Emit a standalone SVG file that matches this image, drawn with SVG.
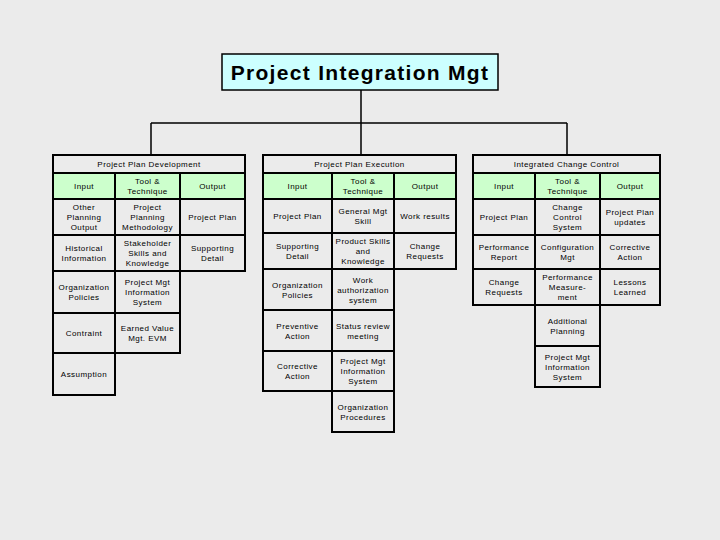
<svg xmlns="http://www.w3.org/2000/svg" width="720" height="540" viewBox="0 0 720 540">
<style>
.c{fill:#ebebeb;stroke:#000;stroke-width:2}
.g{fill:#ccffcc;stroke:#000;stroke-width:2}
.t{font-family:"Liberation Sans",Arial,sans-serif;font-size:8px;letter-spacing:0.45px;fill:#000;text-anchor:middle}
.ln{fill:none;stroke:#000;stroke-width:1.5}
</style>
<rect width="720" height="540" fill="#ebebeb"/>
<g id="connectors">
<path class="ln" d="M361,90 V155 M151,123 H567 M151,123 V155 M567,123 V155"/>
</g>
<g id="title">
<rect x="222" y="54" width="276" height="36" fill="#ccffff" stroke="#000" stroke-width="1.5"/>
<text x="360" y="80" font-family="Liberation Sans,Arial,sans-serif" font-size="21" font-weight="bold" letter-spacing="1.3" text-anchor="middle">Project Integration Mgt</text>
</g>
<g id="plan-development">
<rect class="c" x="53" y="155" width="192" height="18"/>
<rect class="g" x="53" y="173" width="62" height="26"/>
<rect class="g" x="115" y="173" width="65" height="26"/>
<rect class="g" x="180" y="173" width="65" height="26"/>
<rect class="c" x="53" y="199" width="62" height="36"/>
<rect class="c" x="115" y="199" width="65" height="36"/>
<rect class="c" x="180" y="199" width="65" height="36"/>
<rect class="c" x="53" y="235" width="62" height="36"/>
<rect class="c" x="115" y="235" width="65" height="36"/>
<rect class="c" x="180" y="235" width="65" height="36"/>
<rect class="c" x="53" y="271" width="62" height="42"/>
<rect class="c" x="115" y="271" width="65" height="42"/>
<rect class="c" x="53" y="313" width="62" height="40"/>
<rect class="c" x="115" y="313" width="65" height="40"/>
<rect class="c" x="53" y="353" width="62" height="42"/>
<text class="t" x="149" y="167">Project Plan Development</text>
<text class="t" x="84" y="189">Input</text>
<text class="t" x="147.5" y="184">Tool &amp;<tspan x="147.5" dy="10">Technique</tspan></text>
<text class="t" x="212.5" y="189">Output</text>
<text class="t" x="84" y="210">Other<tspan x="84" dy="10">Planning</tspan><tspan x="84" dy="10">Output</tspan></text>
<text class="t" x="147.5" y="210">Project<tspan x="147.5" dy="10">Planning</tspan><tspan x="147.5" dy="10">Methodology</tspan></text>
<text class="t" x="212.5" y="220">Project Plan</text>
<text class="t" x="84" y="251">Historical<tspan x="84" dy="10">Information</tspan></text>
<text class="t" x="147.5" y="246">Stakeholder<tspan x="147.5" dy="10">Skills and</tspan><tspan x="147.5" dy="10">Knowledge</tspan></text>
<text class="t" x="212.5" y="251">Supporting<tspan x="212.5" dy="10">Detail</tspan></text>
<text class="t" x="84" y="290">Organization<tspan x="84" dy="10">Policies</tspan></text>
<text class="t" x="147.5" y="285">Project Mgt<tspan x="147.5" dy="10">Information</tspan><tspan x="147.5" dy="10">System</tspan></text>
<text class="t" x="84" y="336">Contraint</text>
<text class="t" x="147.5" y="331">Earned Value<tspan x="147.5" dy="10">Mgt. EVM</tspan></text>
<text class="t" x="84" y="377">Assumption</text>
</g>
<g id="plan-execution">
<rect class="c" x="263" y="155" width="193" height="18"/>
<rect class="g" x="263" y="173" width="69" height="26"/>
<rect class="g" x="332" y="173" width="62" height="26"/>
<rect class="g" x="394" y="173" width="62" height="26"/>
<rect class="c" x="263" y="199" width="69" height="34"/>
<rect class="c" x="332" y="199" width="62" height="34"/>
<rect class="c" x="394" y="199" width="62" height="34"/>
<rect class="c" x="263" y="233" width="69" height="36"/>
<rect class="c" x="332" y="233" width="62" height="36"/>
<rect class="c" x="394" y="233" width="62" height="36"/>
<rect class="c" x="263" y="269" width="69" height="41"/>
<rect class="c" x="332" y="269" width="62" height="41"/>
<rect class="c" x="263" y="310" width="69" height="41"/>
<rect class="c" x="332" y="310" width="62" height="41"/>
<rect class="c" x="263" y="351" width="69" height="40"/>
<rect class="c" x="332" y="351" width="62" height="40"/>
<rect class="c" x="332" y="391" width="62" height="41"/>
<text class="t" x="359.5" y="167">Project Plan Execution</text>
<text class="t" x="297.5" y="189">Input</text>
<text class="t" x="363" y="184">Tool &amp;<tspan x="363" dy="10">Technique</tspan></text>
<text class="t" x="425" y="189">Output</text>
<text class="t" x="297.5" y="219">Project Plan</text>
<text class="t" x="363" y="214">General Mgt<tspan x="363" dy="10">Skill</tspan></text>
<text class="t" x="425" y="219">Work results</text>
<text class="t" x="297.5" y="249">Supporting<tspan x="297.5" dy="10">Detail</tspan></text>
<text class="t" x="363" y="244">Product Skills<tspan x="363" dy="10">and</tspan><tspan x="363" dy="10">Knowledge</tspan></text>
<text class="t" x="425" y="249">Change<tspan x="425" dy="10">Requests</tspan></text>
<text class="t" x="297.5" y="287.5">Organization<tspan x="297.5" dy="10">Policies</tspan></text>
<text class="t" x="363" y="282.5">Work<tspan x="363" dy="10">authorization</tspan><tspan x="363" dy="10">system</tspan></text>
<text class="t" x="297.5" y="328.5">Preventive<tspan x="297.5" dy="10">Action</tspan></text>
<text class="t" x="363" y="328.5">Status review<tspan x="363" dy="10">meeting</tspan></text>
<text class="t" x="297.5" y="369">Corrective<tspan x="297.5" dy="10">Action</tspan></text>
<text class="t" x="363" y="364">Project Mgt<tspan x="363" dy="10">Information</tspan><tspan x="363" dy="10">System</tspan></text>
<text class="t" x="363" y="409.5">Organization<tspan x="363" dy="10">Procedures</tspan></text>
</g>
<g id="change-control">
<rect class="c" x="473" y="155" width="187" height="18"/>
<rect class="g" x="473" y="173" width="62" height="26"/>
<rect class="g" x="535" y="173" width="65" height="26"/>
<rect class="g" x="600" y="173" width="60" height="26"/>
<rect class="c" x="473" y="199" width="62" height="36"/>
<rect class="c" x="535" y="199" width="65" height="36"/>
<rect class="c" x="600" y="199" width="60" height="36"/>
<rect class="c" x="473" y="235" width="62" height="34"/>
<rect class="c" x="535" y="235" width="65" height="34"/>
<rect class="c" x="600" y="235" width="60" height="34"/>
<rect class="c" x="473" y="269" width="62" height="36"/>
<rect class="c" x="535" y="269" width="65" height="36"/>
<rect class="c" x="600" y="269" width="60" height="36"/>
<rect class="c" x="535" y="305" width="65" height="41"/>
<rect class="c" x="535" y="346" width="65" height="41"/>
<text class="t" x="566.5" y="167">Integrated Change Control</text>
<text class="t" x="504" y="189">Input</text>
<text class="t" x="567.5" y="184">Tool &amp;<tspan x="567.5" dy="10">Technique</tspan></text>
<text class="t" x="630" y="189">Output</text>
<text class="t" x="504" y="220">Project Plan</text>
<text class="t" x="567.5" y="210">Change<tspan x="567.5" dy="10">Control</tspan><tspan x="567.5" dy="10">System</tspan></text>
<text class="t" x="630" y="215">Project Plan<tspan x="630" dy="10">updates</tspan></text>
<text class="t" x="504" y="250">Performance<tspan x="504" dy="10">Report</tspan></text>
<text class="t" x="567.5" y="250">Configuration<tspan x="567.5" dy="10">Mgt</tspan></text>
<text class="t" x="630" y="250">Corrective<tspan x="630" dy="10">Action</tspan></text>
<text class="t" x="504" y="285">Change<tspan x="504" dy="10">Requests</tspan></text>
<text class="t" x="567.5" y="280">Performance<tspan x="567.5" dy="10">Measure-</tspan><tspan x="567.5" dy="10">ment</tspan></text>
<text class="t" x="630" y="285">Lessons<tspan x="630" dy="10">Learned</tspan></text>
<text class="t" x="567.5" y="323.5">Additional<tspan x="567.5" dy="10">Planning</tspan></text>
<text class="t" x="567.5" y="359.5">Project Mgt<tspan x="567.5" dy="10">Information</tspan><tspan x="567.5" dy="10">System</tspan></text>
</g>
</svg>
